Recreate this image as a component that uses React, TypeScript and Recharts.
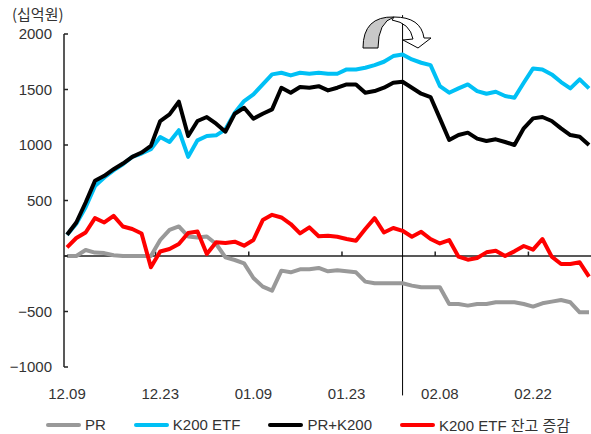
import { LineChart, Line, XAxis, YAxis, ReferenceLine } from 'recharts';

// trading days, 2016.12 ~ 2017.03
const dates = [
  '12.09', '12.12', '12.13', '12.14', '12.15', '12.16', '12.19', '12.20', '12.21', '12.22',
  '12.23', '12.26', '12.27', '12.28', '12.29', '01.02', '01.03', '01.04', '01.05', '01.06',
  '01.09', '01.10', '01.11', '01.12', '01.13', '01.16', '01.17', '01.18', '01.19', '01.20',
  '01.23', '01.24', '01.25', '01.26', '01.31', '02.01', '02.02', '02.03', '02.06', '02.07',
  '02.08', '02.09', '02.10', '02.13', '02.14', '02.15', '02.16', '02.17', '02.20', '02.21',
  '02.22', '02.23', '02.24', '02.27', '02.28', '03.02', '03.03',
];

// 십억원
const pr = [
  0, 0, 54, 31, 26, 7, 0, 0, 0, 0,
  144, 236, 266, 176, 167, 176, 108, -12, -36, -66,
  -198, -276, -312, -132, -147, -120, -120, -108, -138, -129,
  -138, -147, -231, -246, -246, -246, -246, -267, -282, -282,
  -282, -432, -432, -447, -432, -432, -417, -417, -417, -432,
  -456, -426, -411, -396, -417, -507, -507,
];
const k200Etf = [
  190, 290, 440, 630, 707, 772, 827, 893, 923, 962,
  1072, 1027, 1133, 893, 1042, 1081, 1087, 1141, 1291, 1396,
  1456, 1546, 1636, 1651, 1627, 1651, 1642, 1651, 1642, 1642,
  1681, 1681, 1696, 1720, 1750, 1801, 1816, 1771, 1741, 1720,
  1531, 1471, 1510, 1546, 1486, 1462, 1480, 1441, 1426, 1561,
  1690, 1681, 1636, 1567, 1510, 1591, 1510,
];
const prK200 = [
  191, 302, 482, 677, 722, 782, 833, 893, 932, 992,
  1216, 1276, 1390, 1081, 1216, 1252, 1192, 1120, 1282, 1336,
  1237, 1282, 1321, 1516, 1471, 1522, 1516, 1530, 1492, 1516,
  1546, 1546, 1471, 1486, 1516, 1561, 1570, 1516, 1462, 1432,
  1240, 1045, 1090, 1111, 1057, 1036, 1051, 1027, 1000, 1150,
  1240, 1252, 1216, 1150, 1090, 1075, 1000,
];
const etfChange = [
  77, 162, 212, 341, 302, 362, 266, 243, 203, -102,
  41, 63, 108, 207, 221, 18, 123, 117, 129, 93,
  144, 324, 371, 347, 288, 204, 258, 178, 182, 173,
  153, 138, 243, 341, 212, 252, 227, 174, 218, 153,
  113, 144, -6, -33, -18, 33, 48, 0, 42, 90,
  57, 153, -6, -72, -72, -57, -186,
];

const yTicks = [-1000, -500, 0, 500, 1000, 1500, 2000];
const xTicks = [0, 10, 20, 30, 40, 50];
const minorTicks = [9.5, 19.5, 29.5, 39.5, 49.5];
const markerIdx = 36;

const data = dates.map((date, idx) => ({
  idx,
  date,
  pr: pr[idx],
  k200Etf: k200Etf[idx],
  prK200: prK200[idx],
  etfChange: etfChange[idx],
}));

const series = [
  { key: 'pr', name: 'PR', color: '#999999' },
  { key: 'k200Etf', name: 'K200 ETF', color: '#00C0F5' },
  { key: 'prK200', name: 'PR+K200', color: '#000000' },
  { key: 'etfChange', name: 'K200 ETF 잔고 증감', color: '#FF0000' },
];

const FONT = '"Liberation Sans", Arial, "Noto Sans CJK KR", sans-serif';
const TEXT = '#333333';

const fmtY = (v: number) => (v === 0 ? '' : v < 0 ? `\u2212${Math.abs(v)}` : `${v}`);

const YTick = ({ x, y, payload }: any) => (
  <g>
    <text x={x} y={y + 5} textAnchor="end" fontSize={15} fontFamily={FONT} fill={TEXT}>
      {fmtY(payload.value)}
    </text>
    <line x1={x + 12} x2={x + 16} y1={y} y2={y} stroke="#222" strokeWidth={1.5} />
  </g>
);

const XTick = ({ x, y, payload }: any) => (
  <text x={x} y={y + 30} textAnchor="middle" fontSize={15} fontFamily={FONT} fill={TEXT}>
    {dates[payload.value]}
  </text>
);

export default function App() {
  return (
    <div style={{ position: 'absolute', left: 0, top: 0, width: 591, height: 434, background: '#fff' }}>
      <LineChart width={591} height={434} data={data} margin={{ top: 34, right: 0, bottom: 0, left: 0 }}>
        <XAxis
          dataKey="idx"
          type="number"
          domain={[0, dates.length - 1]}
          ticks={xTicks}
          interval={0}
          axisLine={false}
          tickLine={false}
          tickSize={0}
          height={67}
          padding={{ left: 3, right: 2 }}
          tick={<XTick />}
        />
        <YAxis
          domain={[-1000, 2000]}
          ticks={yTicks}
          interval={0}
          width={64}
          axisLine={{ stroke: '#222', strokeWidth: 1.5 }}
          tickLine={false}
          tickSize={0}
          tickMargin={12}
          tick={<YTick />}
        />
        <ReferenceLine y={0} stroke="#222" strokeWidth={1.5} />
        {minorTicks.map((t) => (
          <ReferenceLine
            key={t}
            segment={[{ x: t, y: 0 }, { x: t, y: 40 }]}
            stroke="#222"
            strokeWidth={1.5}
          />
        ))}
        <ReferenceLine
          segment={[{ x: markerIdx, y: 2170 }, { x: markerIdx, y: -1256 }]}
          ifOverflow="visible"
          stroke="#000"
          strokeWidth={1}
        />
        {series.map((s) => (
          <Line
            key={s.key}
            dataKey={s.key}
            name={s.name}
            type="linear"
            stroke={s.color}
            strokeWidth={4}
            strokeLinejoin="round"
            dot={false}
            activeDot={false}
            isAnimationActive={false}
          />
        ))}
      </LineChart>

      <svg width={591} height={434} style={{ position: 'absolute', left: 0, top: 0, pointerEvents: 'none' }}>
        <text x={12} y={20} fontSize={15} fontFamily='"Noto Sans CJK KR", sans-serif' fill={TEXT}>
          (십억원)
        </text>
        {/* turning-point arrow */}
        <path d="M363,48 Q363,16 394,17 Q378,22 378,48 Z" fill="#C8C8C8" stroke="#000" strokeWidth={1} />
        <path
          d="M394,17 Q421,17 424,38 L431,38 L418,48 L403,40 L413,39 Q410,23 392,20 Z"
          fill="#fff"
          stroke="#000"
          strokeWidth={1}
        />
      </svg>

      <div
        style={{
          position: 'absolute',
          left: 46,
          top: 414,
          display: 'flex',
          alignItems: 'center',
          gap: 28,
          fontFamily: FONT,
          fontSize: 15,
          color: TEXT,
        }}
      >
        {series.map((s) => (
          <div key={s.key} style={{ display: 'flex', alignItems: 'center', gap: 4 }}>
            <div style={{ width: 35, height: 4, background: s.color, borderRadius: 2 }} />
            <span>{s.name}</span>
          </div>
        ))}
      </div>
    </div>
  );
}
